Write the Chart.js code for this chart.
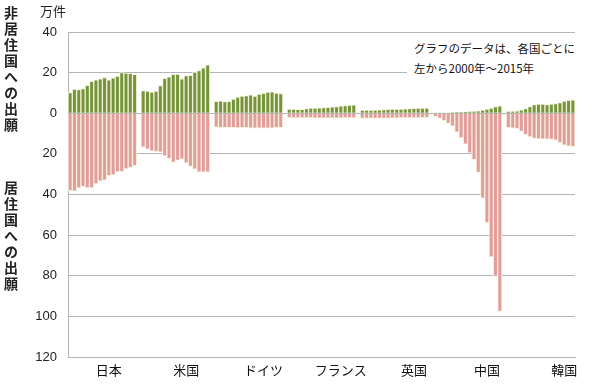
<!DOCTYPE html>
<html><head><meta charset="utf-8">
<script src="https://cdn.jsdelivr.net/npm/chart.js@4"></script>
<style>
html,body{margin:0;padding:0;background:#fff;}
#wrap{position:relative;width:600px;height:389px;overflow:hidden;}
#c{position:absolute;left:0;top:0;}
.vt{position:absolute;writing-mode:vertical-rl;font-family:"Noto Sans CJK JP",sans-serif;font-size:14px;font-weight:bold;color:#222;letter-spacing:2px;line-height:16px;}
#unit{position:absolute;left:40px;top:1px;font-family:"Noto Sans CJK JP",sans-serif;font-size:13px;color:#222;}
#note{position:absolute;left:407px;top:38px;width:170px;height:42px;background:#fff;font-family:"Noto Sans CJK JP",sans-serif;font-size:11.5px;line-height:20px;color:#111;padding-left:7px;box-sizing:border-box;white-space:nowrap;}
</style>
</head><body>
<div id="wrap">
<canvas id="c" width="600" height="389"></canvas>
<div class="vt" style="left:3px;top:6px;">非居住国への出願</div>
<div class="vt" style="left:3px;top:181px;">居住国への出願</div>
<div id="unit">万件</div>
<div id="note">グラフのデータは、各国ごとに<br>左から2000年～2015年</div>
</div>
<script>
const countries = ['日本','米国','ドイツ','フランス','英国','中国','韓国'];
const years = ['2000','2001','2002','2003','2004','2005','2006','2007','2008','2009','2010','2011','2012','2013','2014','2015'];
// label slot (within each group) where the country name is printed
const labelSlot = [9, 10, 11, 12, 12, 12, 13];
const yTicks = [40, 20, 0, -20, -40, -60, -80, -100, -120];

// 非居住国への出願 (万件)
const abroadJP = [10.2, 11.9, 11.6, 12.2, 13.7, 15.7, 16.5, 17.0, 17.5, 16.4, 17.4, 18.3, 20.0, 19.8, 19.7, 19.2];
const abroadUS = [11.1, 10.9, 10.4, 10.9, 13.6, 17.2, 17.9, 19.2, 19.3, 17.0, 18.5, 18.7, 20.3, 21.0, 22.3, 23.8];
const abroadDE = [5.9, 6.1, 5.8, 5.9, 7.0, 7.9, 8.5, 8.7, 9.1, 8.4, 9.4, 9.8, 10.4, 10.5, 9.9, 9.7];
const abroadFR = [2.0, 2.0, 1.9, 1.9, 2.3, 2.5, 2.6, 2.7, 2.8, 2.9, 3.2, 3.3, 3.6, 3.8, 4.0, 4.1];
const abroadGB = [1.5, 1.5, 1.5, 1.6, 1.7, 1.8, 1.9, 2.0, 2.0, 2.1, 2.2, 2.3, 2.4, 2.5, 2.5, 2.6];
const abroadCN = [0.1, 0.1, 0.1, 0.2, 0.3, 0.4, 0.5, 0.7, 0.8, 1.0, 1.2, 1.5, 2.0, 2.6, 3.3, 3.7];
const abroadKR = [0.8, 1.0, 1.2, 1.7, 2.3, 3.3, 4.3, 4.5, 4.5, 4.3, 4.5, 4.8, 5.3, 6.0, 6.3, 6.6];

// 居住国への出願 (万件)
const homeJP = [38.1, 38.3, 36.8, 36.2, 36.8, 36.8, 34.8, 33.4, 32.9, 30.7, 30.4, 28.9, 28.7, 27.4, 26.8, 25.8];
const homeUS = [16.7, 17.7, 18.5, 18.9, 19.2, 21.0, 22.4, 24.2, 23.2, 22.6, 24.4, 26.2, 27.5, 29.0, 29.0, 29.0];
const homeDE = [6.9, 7.1, 7.1, 7.1, 7.1, 7.2, 7.1, 7.1, 7.3, 7.3, 7.4, 7.3, 7.3, 7.3, 7.1, 7.1];
const homeFR = [2.2, 2.3, 2.3, 2.3, 2.3, 2.3, 2.4, 2.4, 2.4, 2.4, 2.4, 2.4, 2.4, 2.3, 2.3, 2.3];
const homeGB = [2.6, 2.6, 2.6, 2.5, 2.5, 2.5, 2.5, 2.4, 2.4, 2.3, 2.3, 2.3, 2.3, 2.3, 2.2, 2.2];
const homeCN = [1.7, 2.6, 3.6, 5.0, 6.3, 9.3, 12.2, 15.2, 19.5, 22.8, 29.1, 41.8, 53.9, 70.7, 80.3, 97.5];
const homeKR = [7.1, 7.3, 7.6, 8.9, 10.6, 11.6, 12.4, 12.6, 12.7, 12.7, 12.9, 13.2, 14.5, 15.7, 16.2, 16.5];

const abroad = [abroadJP, abroadUS, abroadDE, abroadFR, abroadGB, abroadCN, abroadKR];
const home = [homeJP, homeUS, homeDE, homeFR, homeGB, homeCN, homeKR];

// build flattened category list with an empty slot between countries
const labels = [], greenData = [], pinkData = [], tickText = [];
countries.forEach((c, gi) => {
  if (gi > 0) { labels.push(''); greenData.push(null); pinkData.push(null); tickText.push(''); }
  years.forEach((y, yi) => {
    labels.push(c + ' ' + y);
    greenData.push(abroad[gi][yi]);
    pinkData.push(-home[gi][yi]);
    tickText.push(yi === labelSlot[gi] ? c : '');
  });
});

const gridCol = '#b4b4b4';
new Chart(document.getElementById('c'), {
  type: 'bar',
  data: {
    labels: labels,
    datasets: [
      { label: '非居住国への出願', data: greenData, backgroundColor: '#74953a', borderColor: '#f4f1dc', borderWidth: 1 },
      { label: '居住国への出願', data: pinkData, backgroundColor: '#e39c9c', borderColor: '#f4f1dc', borderWidth: 1 }
    ]
  },
  options: {
    responsive: false,
    animation: false,
    layout: { padding: { top: 32, right: 25, left: 0, bottom: 0 } },
    plugins: { legend: { display: false }, tooltip: { enabled: false } },
    datasets: { bar: { barPercentage: 1, categoryPercentage: 1 } },
    scales: {
      x: {
        stacked: true,
        offset: true,
        grid: { display: false, drawTicks: false },
        border: { display: true, color: gridCol },
        ticks: {
          autoSkip: false, maxRotation: 0, minRotation: 0, padding: 5,
          color: '#111',
          font: { family: '"Noto Sans CJK JP", sans-serif', size: 13 },
          callback: (v, i) => tickText[i]
        },
        afterFit: s => { s.height = 32; }
      },
      y: {
        stacked: true,
        min: -120, max: 40,
        afterBuildTicks: s => { s.ticks = yTicks.map(v => ({ value: v })); },
        grid: { color: gridCol, drawTicks: false, lineWidth: 1 },
        border: { display: true, color: gridCol },
        ticks: {
          padding: 11, color: '#222',
          font: { family: '"Liberation Sans", Arial, sans-serif', size: 13 },
          callback: v => String(Math.abs(v))
        },
        afterFit: s => { s.width = 68; }
      }
    }
  }
});
</script>
</body></html>
